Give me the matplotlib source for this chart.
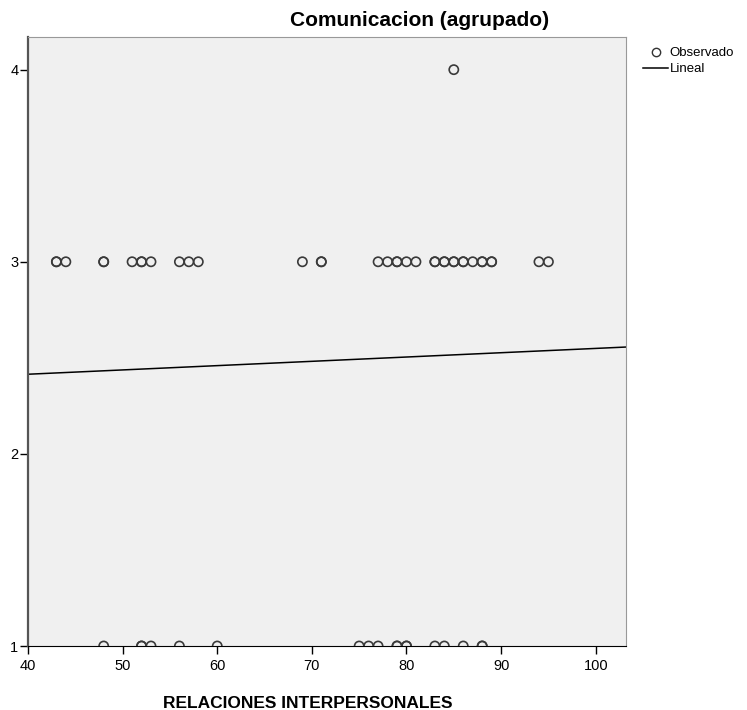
import numpy as np
import matplotlib.pyplot as plt
from matplotlib.lines import Line2D

plt.rcParams['font.family'] = ['Liberation Sans', 'DejaVu Sans']

# Observed values (duplicates listed twice where the circle looks darker)
x_3 = [43, 43, 44, 48, 48, 51, 52, 52, 53, 56, 57, 58, 69, 71, 71,
       77, 78, 79, 79, 80, 81, 83, 83, 84, 84, 85, 85, 86, 86, 87, 88, 88, 89, 89, 94, 95]
x_1 = [48, 52, 52, 53, 56, 60, 75, 76, 77, 79, 79, 80, 80, 83, 84, 86, 88, 88]
x_4 = [85]

# Linear fit
intercept = 2.325
slope = 0.00224

x_ticks = [40, 50, 60, 70, 80, 90, 100]
y_ticks = [1, 2, 3, 4]

xs = np.array(x_3 + x_1 + x_4)
ys = np.array([3] * len(x_3) + [1] * len(x_1) + [4] * len(x_4))

fig = plt.figure(figsize=(7.47, 7.10), dpi=100)
ax = fig.add_axes([28 / 747, 1 - 646 / 710, (626 - 28) / 747, (646 - 37) / 710])
ax.set_facecolor('#f0f0f0')

ax.scatter(xs, ys, s=44, facecolors='none', edgecolors='#3a3a3a', linewidths=1.2, zorder=3)

xl = np.array([40, 103.2])
ax.plot(xl, intercept + slope * xl, color='black', linewidth=1.1, zorder=2)

ax.set_xlim(40, 103.2)
ax.set_ylim(1, 4.17)
ax.set_xticks(x_ticks)
ax.set_yticks(y_ticks)
ax.tick_params(direction='out', length=6, width=1, labelsize=10.5, colors='black', pad=1)
ax.tick_params(axis='x', pad=3)
ax.spines['left'].set_color('#555555')
ax.spines['left'].set_linewidth(1.6)
ax.spines['bottom'].set_color('black')
for side in ['top', 'right']:
    ax.spines[side].set_color('#999999')

fig.text(420 / 747, 1 - 20 / 710, 'Comunicacion (agrupado)', ha='center', va='center',
         fontsize=15, fontweight='bold')
fig.text(308 / 747, 1 - 703 / 710, 'RELACIONES INTERPERSONALES', ha='center', va='center',
         fontsize=12.5, fontweight='bold')

handles = [Line2D([], [], marker='o', linestyle='none', markerfacecolor='none',
                  markeredgecolor='#333333', markersize=6),
           Line2D([], [], color='black', linewidth=1.1)]
fig.legend(handles, ['Observado', 'Lineal'], loc='upper left',
           bbox_to_anchor=(643 / 747, 1 - 47 / 710), frameon=False, fontsize=9.5,
           handlelength=1.9, handletextpad=0.1, labelspacing=0.3, borderpad=0, borderaxespad=0)

fig.savefig('out.png', dpi=100, facecolor='white')
